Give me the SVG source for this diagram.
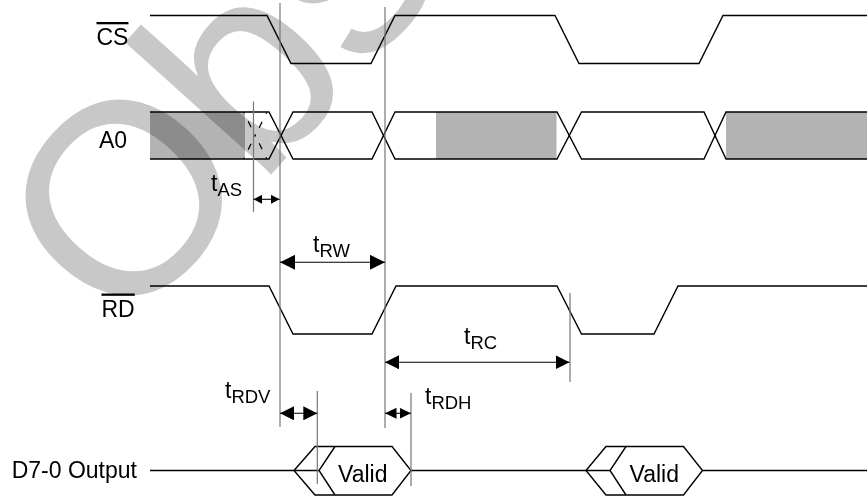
<svg xmlns="http://www.w3.org/2000/svg" width="867" height="498" viewBox="0 0 867 498">
<defs>
<style>
text{font-family:"Liberation Sans",Arial,sans-serif;fill:#000}
.lbl{font-size:23px}
.sub{font-size:18.5px}
.ov{text-decoration:overline}
.wm{font-size:272px;fill:#c8c8c8}
.sig{fill:none;stroke:#000;stroke-width:1.4}
.box{fill:#b3b3b3;mix-blend-mode:multiply}
.dash{fill:none;stroke:#000;stroke-width:1.2;stroke-dasharray:1.5 9 6.5 8 2 8 6.5 9 1.5}
.ref{fill:none;stroke:#777;stroke-width:1.2}
.dim{fill:none;stroke:#000;stroke-width:1.1}
</style>
<marker id="aL" markerUnits="userSpaceOnUse" markerWidth="15" markerHeight="15" refX="15" refY="7.5" orient="auto-start-reverse" viewBox="0 0 15 15"><path d="M0,0L15,7.5L0,15z"/></marker>
<marker id="aM" markerUnits="userSpaceOnUse" markerWidth="14" markerHeight="14" refX="14" refY="7" orient="auto-start-reverse" viewBox="0 0 14 14"><path d="M0,0L14,7L0,14z"/></marker>
<marker id="aS" markerUnits="userSpaceOnUse" markerWidth="11.5" markerHeight="11" refX="11.5" refY="5.5" orient="auto-start-reverse" viewBox="0 0 11.5 11"><path d="M0,0L11.5,5.5L0,11z"/></marker>
<marker id="aXS" markerUnits="userSpaceOnUse" markerWidth="8.5" markerHeight="9" refX="8.5" refY="4.5" orient="auto-start-reverse" viewBox="0 0 8.5 9"><path d="M0,0L8.5,4.5L0,9z"/></marker>
</defs>
<rect width="867" height="498" fill="#fff"/>
<g id="watermark"><text class="wm" transform="translate(123,339) rotate(-48)">O<tspan dx="-8">bs</tspan></text></g>

<g id="cs">
<text class="lbl" x="96.5" y="45"><tspan class="ov">CS</tspan></text>
<path class="sig" d="M150,15.5H267L291,63.5H371L395,15.5H555L579,63.5H699L723,15.5H867"/>
</g>

<g id="a0">
<text class="lbl" x="99" y="147.5">A0</text>
<rect class="box" x="150" y="112" width="95" height="47"/>
<rect class="box" x="436" y="112" width="120.5" height="47"/>
<rect class="box" x="726" y="112" width="141" height="47"/>
<path class="sig" d="M150,112H269L293,159H372L395,112H557L581.5,159H704L726,112H867"/>
<path class="sig" d="M150,159H269L293,112H372L395,159H557L581.5,112H704L726,159H867"/>
<path class="dash" d="M243.5,112L267,159M243.5,159L267,112"/>
</g>

<g id="rd">
<text class="lbl" x="101.5" y="316.5"><tspan class="ov">RD</tspan></text>
<path class="sig" d="M150,286H269L293,334H372L396,286H557L581.5,334H654L678,286H867"/>
</g>

<g id="d70">
<text class="lbl" x="11.7" y="478">D7-0 Output</text>
<path class="sig" d="M150,470.5H294M411,470.5H586M702.5,470.5H867"/>
<path class="sig" d="M294,470.5L315,446.5H392L411,470.5L392,495H315Z"/>
<path class="sig" d="M335,446.5L319,470.5L335,495M294,470.5H319"/>
<text class="lbl" x="338" y="482">Valid</text>
<path class="sig" d="M586,470.5L606,446.5H683.5L702.5,470.5L683.5,495H606Z"/>
<path class="sig" d="M626,446.5L610,470.5L626,495M586,470.5H610"/>
<text class="lbl" x="629.5" y="482">Valid</text>
</g>

<g id="timing">
<path class="ref" d="M253.5,101.5V212M280,3V427M385,7V428M317.3,391V484M411,393V486M570,293V382"/>
<path class="dim" d="M253.5,199.3H279.5" marker-start="url(#aXS)" marker-end="url(#aXS)"/>
<path class="dim" d="M280,262.3H385" marker-start="url(#aL)" marker-end="url(#aL)"/>
<path class="dim" d="M385,362.3H569.5" marker-start="url(#aM)" marker-end="url(#aM)"/>
<path class="dim" d="M280,413.3H317.3" marker-start="url(#aM)" marker-end="url(#aM)"/>
<path class="dim" d="M385,413.3H411" marker-start="url(#aS)" marker-end="url(#aS)"/>
<text class="lbl" x="211" y="190.5">t<tspan class="sub" y="195.5">AS</tspan></text>
<text class="lbl" x="313" y="251.5">t<tspan class="sub" y="256.5">RW</tspan></text>
<text class="lbl" x="464" y="343.5">t<tspan class="sub" y="348.5">RC</tspan></text>
<text class="lbl" x="225" y="398">t<tspan class="sub" y="403">RDV</tspan></text>
<text class="lbl" x="425" y="404">t<tspan class="sub" y="408.5">RDH</tspan></text>
</g>
</svg>
